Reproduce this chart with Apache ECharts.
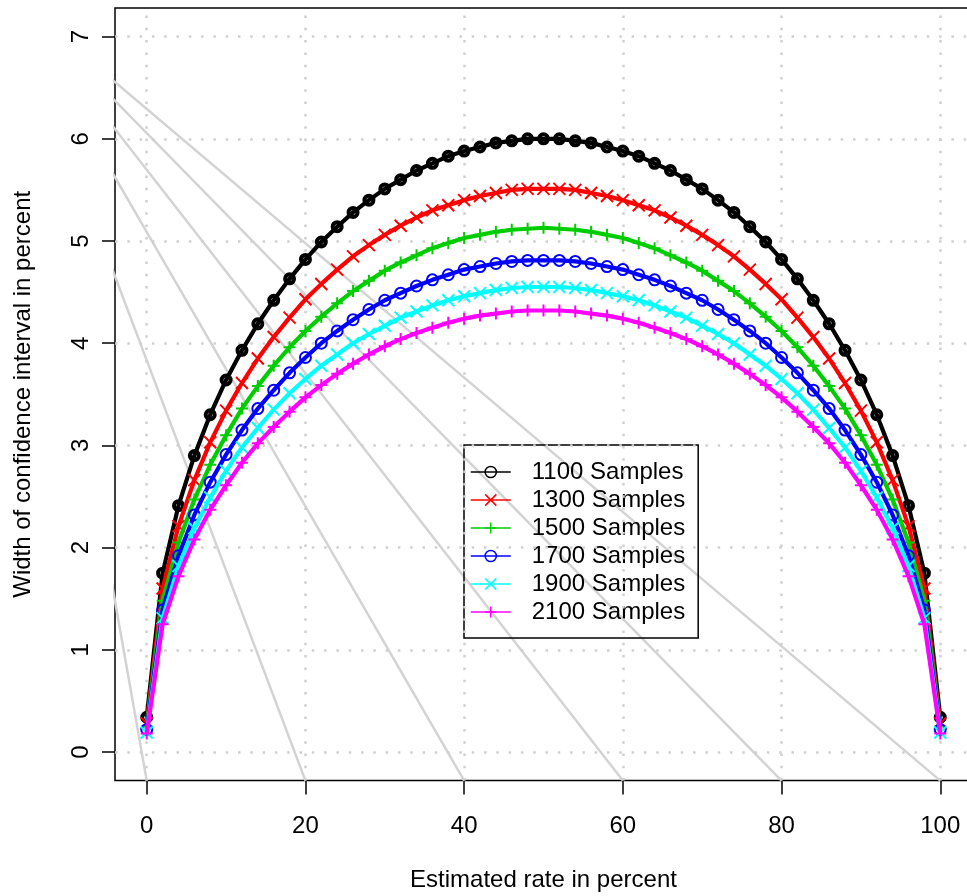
<!DOCTYPE html>
<html>
<head>
<meta charset="utf-8">
<script src="https://cdn.jsdelivr.net/npm/echarts@6/dist/echarts.min.js"></script>
<style>
html,body{margin:0;padding:0;background:#fff;}
#chart{width:967px;height:896px;}
</style>
</head>
<body>
<div id="chart"></div>
<script>
// ---- data ----
var rates = [0,2,4,6,8,10,12,14,16,18,20,22,24,26,28,30,32,34,36,38,40,42,44,46,48,50,52,54,56,58,60,62,64,66,68,70,72,74,76,78,80,82,84,86,88,90,92,94,96,98,100];
var w1100 = [0.34,1.75,2.41,2.90,3.30,3.64,3.93,4.19,4.42,4.63,4.82,4.99,5.14,5.28,5.40,5.51,5.60,5.69,5.76,5.83,5.88,5.92,5.96,5.98,6.00,6.00,6.00,5.98,5.96,5.92,5.88,5.83,5.76,5.69,5.60,5.51,5.40,5.28,5.14,4.99,4.82,4.63,4.42,4.19,3.93,3.64,3.30,2.90,2.41,1.75,0.34];
var w1300 = [0.28,1.60,2.21,2.66,3.03,3.34,3.61,3.85,4.06,4.25,4.43,4.58,4.72,4.85,4.96,5.06,5.15,5.23,5.30,5.35,5.40,5.44,5.47,5.50,5.51,5.51,5.51,5.50,5.47,5.44,5.40,5.35,5.30,5.23,5.15,5.06,4.96,4.85,4.72,4.58,4.43,4.25,4.06,3.85,3.61,3.34,3.03,2.66,2.21,1.60,0.28];
var w1500 = [0.25,1.48,2.05,2.47,2.81,3.10,3.36,3.58,3.78,3.96,4.12,4.26,4.39,4.51,4.61,4.71,4.79,4.86,4.93,4.98,5.03,5.06,5.09,5.11,5.12,5.13,5.12,5.11,5.09,5.06,5.03,4.98,4.93,4.86,4.79,4.71,4.61,4.51,4.39,4.26,4.12,3.96,3.78,3.58,3.36,3.10,2.81,2.47,2.05,1.48,0.25];
var w1700 = [0.22,1.39,1.92,2.32,2.64,2.91,3.15,3.36,3.54,3.71,3.86,4.00,4.12,4.23,4.33,4.42,4.49,4.56,4.62,4.67,4.72,4.75,4.78,4.80,4.81,4.81,4.81,4.80,4.78,4.75,4.72,4.67,4.62,4.56,4.49,4.42,4.33,4.23,4.12,4.00,3.86,3.71,3.54,3.36,3.15,2.91,2.64,2.32,1.92,1.39,0.22];
var w1900 = [0.19,1.31,1.82,2.19,2.49,2.75,2.98,3.17,3.35,3.51,3.65,3.78,3.89,4.00,4.09,4.17,4.25,4.31,4.37,4.42,4.46,4.49,4.52,4.54,4.55,4.55,4.55,4.54,4.52,4.49,4.46,4.42,4.37,4.31,4.25,4.17,4.09,4.00,3.89,3.78,3.65,3.51,3.35,3.17,2.98,2.75,2.49,2.19,1.82,1.31,0.19];
var w2100 = [0.18,1.25,1.72,2.08,2.37,2.61,2.83,3.02,3.18,3.33,3.47,3.59,3.70,3.80,3.89,3.97,4.04,4.10,4.15,4.20,4.24,4.27,4.29,4.31,4.32,4.32,4.32,4.31,4.29,4.27,4.24,4.20,4.15,4.10,4.04,3.97,3.89,3.80,3.70,3.59,3.47,3.33,3.18,3.02,2.83,2.61,2.37,2.08,1.72,1.25,0.18];
var seriesNames = ['1100 Samples','1300 Samples','1500 Samples','1700 Samples','1900 Samples','2100 Samples'];
var xTicks = [0,20,40,60,80,100];
var yTicks = [0,1,2,3,4,5,6,7];
// grey fan of reference lines: common origin and end points on the bottom edge
var fanOrigin = [-17.6, 7.45];
var fanEndX = [0,20,40,60,80,100];
var fanEndY = -0.28;

// ---- style ----
var FONT = "'Liberation Sans', Arial, Helvetica, sans-serif";
var colors = ['#000000','#FF0000','#00CD00','#0000FF','#00FFFF','#FF00FF'];
var P_X = 'path://M0,0L10,10M10,0L0,10';
var P_PLUS = 'path://M5,0L5,10M0,5L10,5';
var symbols = ['circle', P_X, P_PLUS, 'circle', P_X, P_PLUS];
var symSizes = [9, 12, 12, 11, 12, 12];
var symBorder = [4, 2, 2, 2, 2, 2];
var allW = [w1100, w1300, w1500, w1700, w1900, w2100];

function pairs(xs, ys){ return xs.map(function(x,i){ return [x, ys[i]]; }); }

var series = [];
var gridLineStyle = {color:'#d0d0d0', width:2.5, type:[2.5,9.8]};
series.push({
  type:'line', data:[], silent:true, z:1,
  markLine:{
    silent:true, symbol:['none','none'], label:{show:false}, animation:false,
    lineStyle:gridLineStyle,
    emphasis:{disabled:true},
    data: xTicks.map(function(v){return {xAxis:v};}).concat(yTicks.map(function(v){return {yAxis:v};}))
  }
});
fanEndX.forEach(function(ex){
  series.push({
    type:'line', silent:true, z:2, symbol:'none', clip:true,
    data:[fanOrigin, [ex, fanEndY]],
    lineStyle:{color:'#d3d3d3', width:2.5}
  });
});
seriesNames.forEach(function(name, i){
  series.push({
    name:name, type:'line', z:10+i,
    data:pairs(rates, allW[i]),
    symbol:symbols[i], symbolSize:symSizes[i], showAllSymbol:true,
    lineStyle:{color:colors[i], width:4.2},
    itemStyle:{color:'transparent', borderColor:colors[i], borderWidth:symBorder[i]},
    emphasis:{disabled:true}
  });
});

var chart = echarts.init(document.getElementById('chart'), null, {renderer:'canvas'});
chart.setOption({
  animation:false,
  backgroundColor:'#ffffff',
  textStyle:{fontFamily:FONT},
  grid:{left:115, top:8, width:857, height:772.6, show:true, borderColor:'#000', borderWidth:1.5,
        backgroundColor:'transparent', containLabel:false, outerBoundsMode:'none'},
  xAxis:{
    type:'value', min:-4, max:104,
    name:'Estimated rate in percent', nameLocation:'middle', nameGap:88,
    nameTextStyle:{fontSize:24, color:'#000', fontFamily:FONT},
    axisLine:{show:false, onZero:false},
    axisTick:{show:true, customValues:xTicks, length:14, inside:false, lineStyle:{color:'#000', width:1.5}},
    axisLabel:{customValues:xTicks, fontSize:24, color:'#000', margin:34, fontFamily:FONT},
    splitLine:{show:false}
  },
  yAxis:{
    type:'value', min:-0.28, max:7.28,
    name:'Width of confidence interval in percent', nameLocation:'middle', nameGap:80, nameRotate:90,
    nameTextStyle:{fontSize:24, color:'#000', fontFamily:FONT},
    axisLine:{show:false, onZero:false},
    axisTick:{show:true, customValues:yTicks, length:13, inside:false, lineStyle:{color:'#000', width:1.5}},
    axisLabel:{customValues:yTicks, fontSize:24, color:'#000', margin:22, rotate:90, fontFamily:FONT},
    splitLine:{show:false}
  },
  legend:{
    data:seriesNames, orient:'vertical', left:464, top:445,
    padding:[15,13,14,6], itemGap:4, itemWidth:40, itemHeight:14,
    borderColor:'#000', borderWidth:1.5, backgroundColor:'transparent',
    textStyle:{fontSize:24, color:'#000', fontFamily:FONT, padding:[0,0,0,16], lineHeight:24},
    lineStyle:{width:1.5},
    itemStyle:{borderWidth:1.5},
    selectedMode:false
  },
  series:series
});
</script>
</body>
</html>
